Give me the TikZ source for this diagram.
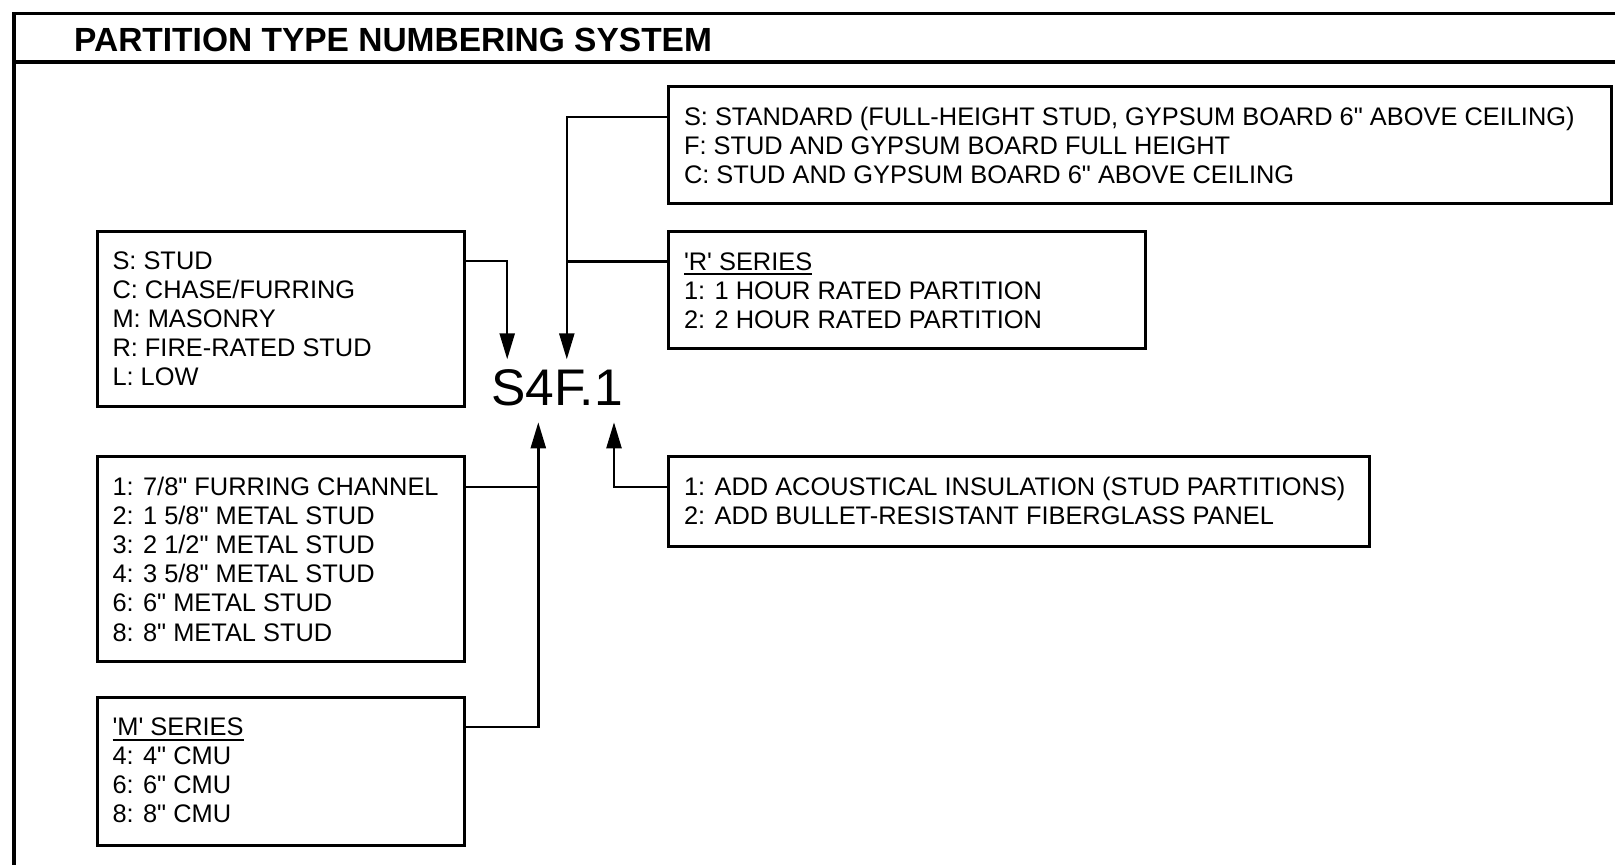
\documentclass[tikz,border=0pt]{standalone}
\usepackage{fontspec}
\setmainfont{Liberation Sans}[Ligatures=TeXOff]
\usetikzlibrary{arrows.meta}
\newcommand{\myul}[1]{\setbox0\hbox{#1}\rlap{\rule[-5pt]{\wd0}{2pt}}\box0}
\begin{document}
\begin{tikzpicture}[x=1pt,y=-1pt,
  box/.style={draw,line width=3pt,inner sep=0pt,outer sep=0pt,anchor=north west,rectangle},
  txt/.style={anchor=base west,inner sep=0pt,outer sep=0pt,font=\fontsize{25.4}{29.1}\selectfont},
  conn/.style={line width=2.4pt},
  arr/.style={conn,-{Triangle[length=26pt,width=15pt]}},
  frame/.style={line width=3.6pt,line join=miter}]
\useasboundingbox (0,0) rectangle (1615,865);
% frame and title
\draw[frame] (14,865) -- (14,13.4) -- (1615,13.4);
\draw[frame] (14,61.7) -- (1615,61.7);
\node[anchor=base west,inner sep=0pt,font=\bfseries\fontsize{33.5}{40}\selectfont] (title) at (74,51.7) {PARTITION TYPE NUMBERING SYSTEM};
% boxes
\node[box,minimum width=943.1pt,minimum height=117.1pt] (A) at (668.7,86.7) {};
\node[box,minimum width=477pt,minimum height=117.1pt] (B) at (668.7,231.7) {};
\node[box,minimum width=367.2pt,minimum height=175pt] (C) at (97.2,231.7) {};
\node[box,minimum width=367.2pt,minimum height=204.9pt] (D) at (97.2,456.3) {};
\node[box,minimum width=367.2pt,minimum height=148pt] (E) at (97.2,697) {};
\node[box,minimum width=700.3pt,minimum height=89.3pt] (F) at (668.7,456.7) {};
% texts
\node[txt] (At) at (684,125.3) {\begin{tabular}[t]{@{}l@{}}S: STANDARD (FULL-HEIGHT STUD, GYPSUM BOARD 6" ABOVE CEILING)\\F: STUD AND GYPSUM BOARD FULL HEIGHT\\C: STUD AND GYPSUM BOARD 6" ABOVE CEILING\end{tabular}};
\node[txt] (Bt) at (684,270.3) {\begin{tabular}[t]{@{}l@{}}\myul{'R' SERIES}\\1: 1 HOUR RATED PARTITION\\2: 2 HOUR RATED PARTITION\end{tabular}};
\node[txt] (Ct) at (112.5,269.5) {\begin{tabular}[t]{@{}l@{}}S: STUD\\C: CHASE/FURRING\\M: MASONRY\\R: FIRE-RATED STUD\\L: LOW\end{tabular}};
\node[txt] (Dt) at (112.5,495.5) {\begin{tabular}[t]{@{}l@{}}1: 7/8" FURRING CHANNEL\\2: 1 5/8" METAL STUD\\3: 2 1/2" METAL STUD\\4: 3 5/8" METAL STUD\\6: 6" METAL STUD\\8: 8" METAL STUD\end{tabular}};
\node[txt] (Et) at (112.5,735.5) {\begin{tabular}[t]{@{}l@{}}\myul{'M' SERIES}\\4: 4" CMU\\6: 6" CMU\\8: 8" CMU\end{tabular}};
\node[txt] (Ft) at (684,495.7) {\begin{tabular}[t]{@{}l@{}}1: ADD ACOUSTICAL INSULATION (STUD PARTITIONS)\\2: ADD BULLET-RESISTANT FIBERGLASS PANEL\end{tabular}};
% code
\node[anchor=base west,inner sep=0pt,font=\fontsize{51.5}{60}\selectfont] (code) at (491,405.5) {S4F.1};
\coordinate (aS) at (507.2,359.3);
\coordinate (aF) at (566.8,359.3);
\coordinate (a4) at (538.3,422.3);
\coordinate (a1) at (614,422.3);
% connectors
\draw[arr] (C.north east) ++(0,29) -| (aS);
\draw[arr] (A.north west) ++(0,30) -| (aF);
\draw[conn] (B.north west) ++(0,29.6) coordinate (b1) -- (b1 -| aF);
\draw[arr] (E.north east) ++(0,29.7) -| (a4);
\draw[conn] (D.north east) ++(0,30.4) coordinate (d1) -- (d1 -| a4);
\draw[arr] (F.north west) ++(0,30) -| (a1);
\end{tikzpicture}
\end{document}
